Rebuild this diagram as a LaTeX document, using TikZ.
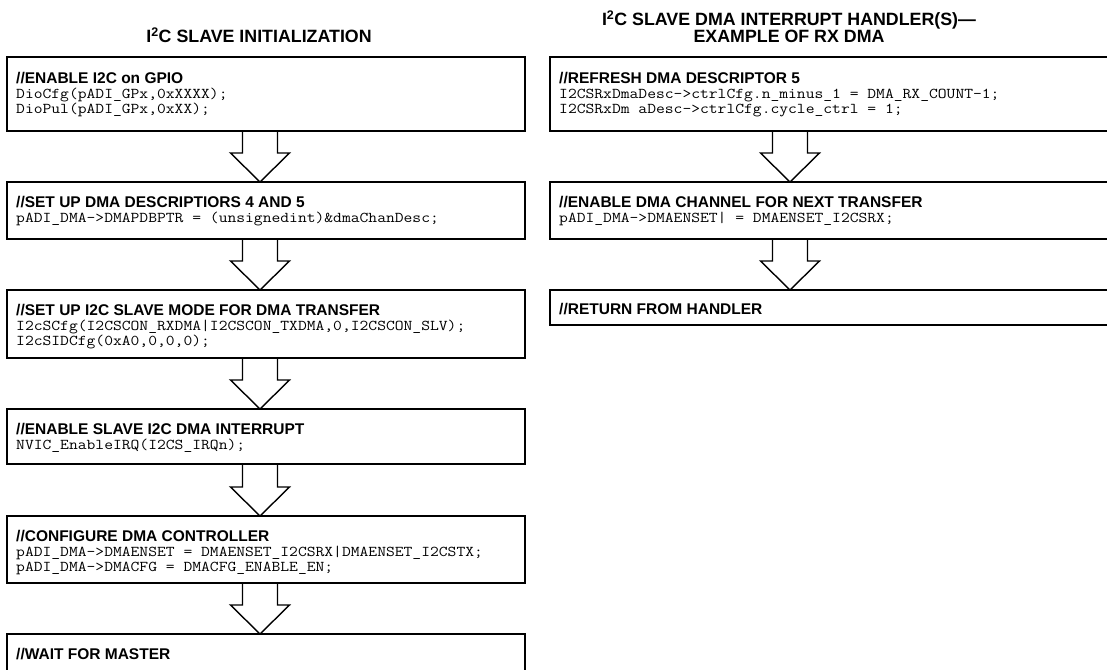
\documentclass[tikz,border=0pt]{standalone}
\usepackage{fontspec}
\setmainfont{Liberation Sans}
\newfontfamily\codefam[FakeStretch=1.14]{Latin Modern Mono}
\usetikzlibrary{calc}
\tikzset{
  box/.style={draw, rectangle, line width=1.6pt, anchor=north west, inner sep=0pt, outer sep=0pt},
  ttl/.style={font=\fontsize{17.8}{18}\selectfont\bfseries, inner sep=0pt, anchor=base},
  head/.style={font=\fontsize{15.5}{16}\selectfont\bfseries, inner sep=0pt, anchor=base west},
  code/.style={font=\codefam\fontsize{15}{15}\selectfont, inner sep=0pt, anchor=base west},
  blk/.style={draw, line width=1.4pt, line join=miter},
}
\newcommand{\flowbox}[5]{\node[box, minimum width=#4pt, minimum height=#5pt] (#1) at (#2,#3) {};}
\newcommand{\boxtext}[5]{\node[#4] (#1) at ($(#2.north west)+(9,#3)$) {#5};}
\newcommand{\blockarrow}[3]{\draw[blk] let \p1=(#1.south), \p2=(#2.north), \p3=(#3) in
  (\x3-17.5pt,\y1) -- (\x3-17.5pt,\y2+29pt) -- (\x3-29.5pt,\y2+29pt) -- (\x3,\y2)
  -- (\x3+29.5pt,\y2+29pt) -- (\x3+17.5pt,\y2+29pt) -- (\x3+17.5pt,\y1);}
\begin{document}
\begin{tikzpicture}[x=1pt,y=-1pt]
\useasboundingbox (0,0) rectangle (1107,669);
\clip (0,0) rectangle (1107,669);
\coordinate (colL) at (260,0);
\coordinate (colR) at (790,0);
% titles
\node[ttl] (tL) at (259,43) {I\textsuperscript{2}C SLAVE INITIALIZATION};
\node[ttl] (tR1) at (789,26) {I\textsuperscript{2}C SLAVE DMA INTERRUPT HANDLER(S)—};
\node[ttl] (tR2) at (789,42) {EXAMPLE OF RX DMA};
% left column
\flowbox{L1}{7}{57}{518}{74}
\boxtext{L1a}{L1}{26}{head}{//ENABLE I2C on GPIO}
\boxtext{L1b}{L1}{41}{code}{DioCfg(pADI\_GPx,0xXXXX);}
\boxtext{L1c}{L1}{56}{code}{DioPul(pADI\_GPx,0xXX);}
\flowbox{L2}{7}{182}{518}{57}
\boxtext{L2a}{L2}{25}{head}{//SET UP DMA DESCRIPTIORS 4 AND 5}
\boxtext{L2b}{L2}{40}{code}{pADI\_DMA->DMAPDBPTR = (unsignedint)\&dmaChanDesc;}
\flowbox{L3}{7}{290}{518}{68}
\boxtext{L3a}{L3}{25}{head}{//SET UP I2C SLAVE MODE FOR DMA TRANSFER}
\boxtext{L3b}{L3}{40}{code}{I2cSCfg(I2CSCON\_RXDMA|I2CSCON\_TXDMA,0,I2CSCON\_SLV);}
\boxtext{L3c}{L3}{55}{code}{I2cSIDCfg(0xA0,0,0,0);}
\flowbox{L4}{7}{409}{518}{55}
\boxtext{L4a}{L4}{25}{head}{//ENABLE SLAVE I2C DMA INTERRUPT}
\boxtext{L4b}{L4}{40}{code}{NVIC\_EnableIRQ(I2CS\_IRQn);}
\flowbox{L5}{7}{516}{518}{67}
\boxtext{L5a}{L5}{25}{head}{//CONFIGURE DMA CONTROLLER}
\boxtext{L5b}{L5}{40}{code}{pADI\_DMA->DMAENSET = DMAENSET\_I2CSRX|DMAENSET\_I2CSTX;}
\boxtext{L5c}{L5}{55}{code}{pADI\_DMA->DMACFG = DMACFG\_ENABLE\_EN;}
\flowbox{L6}{7}{634}{518}{60}
\boxtext{L6a}{L6}{25}{head}{//WAIT FOR MASTER}
% right column
\flowbox{R1}{550}{57}{570}{74}
\boxtext{R1a}{R1}{26}{head}{//REFRESH DMA DESCRIPTOR 5}
\boxtext{R1b}{R1}{41}{code}{I2CSRxDmaDesc->ctrlCfg.n\_minus\_1 = DMA\_RX\_COUNT-1;}
\boxtext{R1c}{R1}{56}{code}{I2CSRxDm aDesc->ctrlCfg.cycle\_ctrl = 1;}
\flowbox{R2}{550}{182}{570}{57}
\boxtext{R2a}{R2}{25}{head}{//ENABLE DMA CHANNEL FOR NEXT TRANSFER}
\boxtext{R2b}{R2}{40}{code}{pADI\_DMA->DMAENSET| = DMAENSET\_I2CSRX;}
\flowbox{R3}{550}{290}{570}{35}
\boxtext{R3a}{R3}{24}{head}{//RETURN FROM HANDLER}
% arrows
\blockarrow{L1}{L2}{colL}
\blockarrow{L2}{L3}{colL}
\blockarrow{L3}{L4}{colL}
\blockarrow{L4}{L5}{colL}
\blockarrow{L5}{L6}{colL}
\blockarrow{R1}{R2}{colR}
\blockarrow{R2}{R3}{colR}
\end{tikzpicture}
\end{document}
